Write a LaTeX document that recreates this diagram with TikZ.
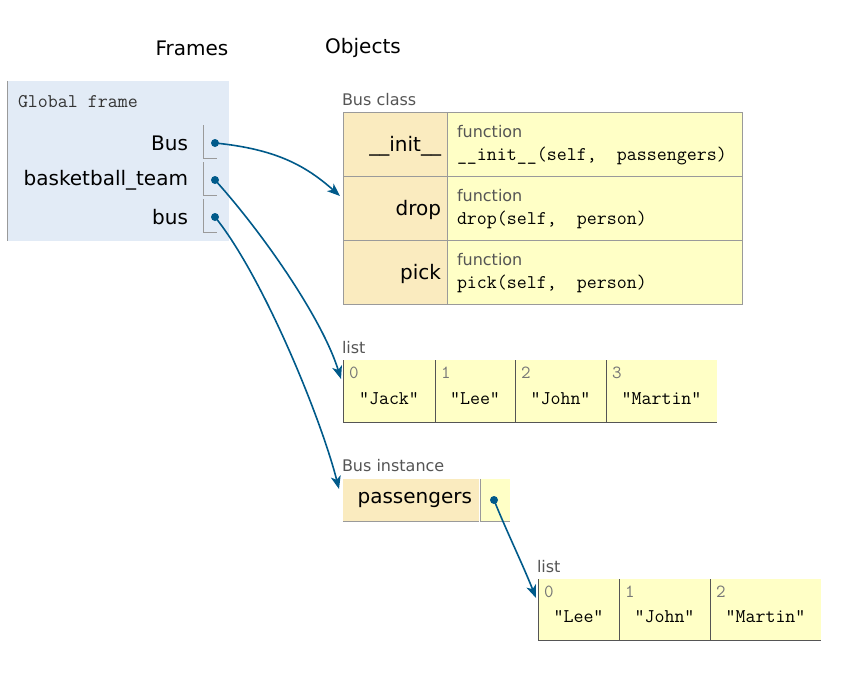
\documentclass[tikz,border=0pt]{standalone}
\usepackage{fontspec}
\setmainfont{DejaVu Sans}
\usetikzlibrary{arrows.meta,calc}
\definecolor{framebg}{HTML}{E2EBF6}
\definecolor{keybg}{HTML}{FAEBBF}
\definecolor{valbg}{HTML}{FFFFC6}
\definecolor{bordc}{HTML}{9A9A9A}
\definecolor{listbord}{HTML}{555555}
\definecolor{arrc}{HTML}{005A8A}
\definecolor{lblc}{HTML}{555555}
\definecolor{idxc}{HTML}{777777}
\begin{document}
\begin{tikzpicture}[x=1pt,y=-1pt,
 txt/.style={inner sep=0pt,outer sep=0pt},
 head/.style={txt,font=\fontsize{20}{20}\selectfont},
 var/.style={txt,anchor=east,font=\fontsize{20}{20}\selectfont},
 lbl/.style={txt,anchor=west,text=lblc,font=\fontsize{16}{16}\selectfont},
 code/.style={txt,anchor=west,font=\ttfamily\fontsize{19.4}{19.4}\selectfont},
 strv/.style={txt,font=\ttfamily\fontsize{19.4}{19.4}\selectfont},
 idx/.style={txt,anchor=west,text=idxc,font=\ttfamily\fontsize{18.5}{18.5}\selectfont},
 cell/.style={draw=bordc,line width=1pt,inner sep=0pt,outer sep=0pt},
 dot/.style={circle,fill=arrc,inner sep=0pt,minimum size=8pt},
 ptr/.style={draw=arrc,line width=1.6pt,-{Stealth[length=13pt,width=10pt,inset=3.5pt]}},
 cellline/.style={draw=bordc,line width=1pt}
]
\useasboundingbox (0,0) rectangle (858,675);

% headings
\node[head] (hFrames) at (192,48) {Frames};
\node[head] (hObjects) at (363,48) {Objects};

% global frame
\node[fill=framebg,minimum width=221pt,minimum height=160pt,inner sep=0pt] (gframe) at (118.5,161) {};
\draw[cellline] (gframe.north west) -- (gframe.south west);
\node[code,text=black!80] (gtitle) at (18,102) {Global frame};

\node[var] (vBus) at (188,143) {Bus};
\node[var] (vTeam) at (188,180) {basketball\_team};
\node[var] (vbus) at (188,217) {bus};
\draw[cellline] (203,125) -- (203,158) -- (217,158);
\draw[cellline] (203,162) -- (203,195) -- (217,195);
\draw[cellline] (203,199) -- (203,232) -- (217,232);
\node[dot] (dBus) at (215,143) {};
\node[dot] (dTeam) at (215,180) {};
\node[dot] (dbus) at (215,217) {};

% Bus class
\node[lbl] (lClass) at (342,100) {Bus class};
\node[cell,fill=keybg,minimum width=104pt,minimum height=64pt] (k1) at (395,144) {};
\node[cell,fill=keybg,minimum width=104pt,minimum height=64pt] (k2) at (395,208) {};
\node[cell,fill=keybg,minimum width=104pt,minimum height=64pt] (k3) at (395,272) {};
\node[cell,fill=valbg,minimum width=295pt,minimum height=64pt] (v1) at (594.5,144) {};
\node[cell,fill=valbg,minimum width=295pt,minimum height=64pt] (v2) at (594.5,208) {};
\node[cell,fill=valbg,minimum width=295pt,minimum height=64pt] (v3) at (594.5,272) {};
\node[var] (tk1) at (441,146) {\_\_init\_\_};
\node[var] (tk2) at (441,210) {drop};
\node[var] (tk3) at (441,274) {pick};
\node[lbl] (f1) at (457,132) {function};
\node[code] (c1) at (457,156) {\_\_init\_\_(self,~ passengers)};
\node[lbl] (f2) at (457,196) {function};
\node[code] (c2) at (457,220) {drop(self,~ person)};
\node[lbl] (f3) at (457,260) {function};
\node[code] (c3) at (457,284) {pick(self,~ person)};

% list 1
\node[lbl] (lList1) at (342,348) {list};
\fill[valbg] (343,360) rectangle (717,422);
\draw[listbord,line width=1pt] (343,360) -- (343,422) -- (717,422);
\draw[listbord,line width=1pt] (435,360) -- (435,422);
\draw[listbord,line width=1pt] (515,360) -- (515,422);
\draw[listbord,line width=1pt] (606,360) -- (606,422);
\node[idx] (a0) at (349,373) {0};
\node[idx] (a1) at (441,373) {1};
\node[idx] (a2) at (521,373) {2};
\node[idx] (a3) at (612,373) {3};
\node[strv] (s0) at (389,399) {"Jack"};
\node[strv] (s1) at (475,399) {"Lee"};
\node[strv] (s2) at (560.5,399) {"John"};
\node[strv] (s3) at (661.5,399) {"Martin"};

% Bus instance
\node[lbl] (lInst) at (342,466) {Bus instance};
\node[fill=keybg,minimum width=136pt,minimum height=42pt,inner sep=0pt] (ik) at (411,500) {};
\draw[cellline] (ik.south west) -- (ik.south east);
\node[fill=valbg,minimum width=29pt,minimum height=42pt,inner sep=0pt] (iv) at (495,500) {};
\draw[cellline] (iv.north west) -- (iv.south west) -- (iv.south east);
\node[var] (tpass) at (472,500) {passengers};
\node[dot] (dPass) at (494,500) {};

% list 2
\node[lbl] (lList2) at (537,567) {list};
\fill[valbg] (538,579) rectangle (821,640);
\draw[listbord,line width=1pt] (538,579) -- (538,640) -- (821,640);
\draw[listbord,line width=1pt] (619,579) -- (619,640);
\draw[listbord,line width=1pt] (710,579) -- (710,640);
\node[idx] (b0) at (544,592) {0};
\node[idx] (b1) at (625,592) {1};
\node[idx] (b2) at (716,592) {2};
\node[strv] (t0) at (578.5,617) {"Lee"};
\node[strv] (t1) at (664.5,617) {"John"};
\node[strv] (t2) at (765.5,617) {"Martin"};

% arrow targets
\coordinate (toClass) at (340,196);
\coordinate (toList1) at (341,379);
\coordinate (toInst) at (339,489);
\coordinate (toList2) at (536,598);

\draw[ptr] (dBus.center) .. controls (275,149) and (305,165) .. (toClass);
\draw[ptr] (dTeam.center) .. controls (262,232) and (322,318) .. (toList1);
\draw[ptr] (dbus.center) .. controls (262,275) and (320,415) .. (toInst);
\draw[ptr] (dPass.center) .. controls (506,530) and (523,565) .. (toList2);
\end{tikzpicture}
\end{document}
